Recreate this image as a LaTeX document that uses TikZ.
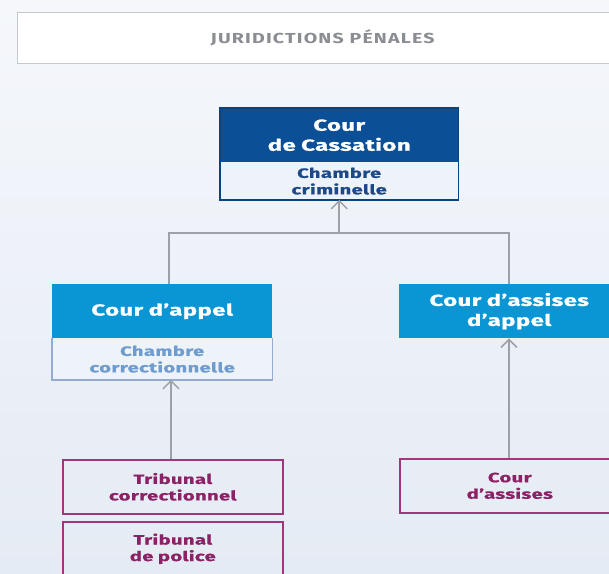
\documentclass[tikz,border=0pt]{standalone}
\usepackage{fontspec}
\setmainfont{Fira Sans}
\newfontfamily\wfont[FakeStretch=1.5, LetterSpace=2.5, FakeBold=0.8]{Fira Sans}
\newfontfamily\tfont[FakeStretch=1.35, LetterSpace=8]{Fira Sans}
\usetikzlibrary{arrows.meta}
\definecolor{bgtop}{HTML}{F5F7FB}
\definecolor{bgbot}{HTML}{E5EBF4}
\definecolor{darkblue}{HTML}{0B4F97}
\definecolor{midblue}{HTML}{0A95D4}
\definecolor{subfill}{HTML}{EEF2F9}
\definecolor{darktext}{HTML}{1D4A86}
\definecolor{lighttext}{HTML}{6E9CCF}
\definecolor{lightborder}{HTML}{95ABD0}
\definecolor{magborder}{HTML}{A0377A}
\definecolor{magtext}{HTML}{8C2266}
\definecolor{linegray}{HTML}{9CA1A9}
\definecolor{titlegray}{HTML}{8A8D92}
\definecolor{titleborder}{HTML}{C4C7CC}
\tikzset{
  boxbase/.style={rectangle, inner sep=0pt, align=center, text width=#1, minimum width=#1},
  header/.style={boxbase=220pt, minimum height=54pt, font=\wfont\bfseries\fontsize{16}{20}\selectfont, text=white},
  subbox/.style={boxbase=220pt, fill=subfill, font=\wfont\bfseries\fontsize{13.5}{16.5}\selectfont},
  lowbox/.style={boxbase=220pt, minimum height=54pt, draw=magborder, line width=1.6pt, text=magtext, font=\wfont\bfseries\fontsize{13.5}{16.5}\selectfont},
  conn/.style={draw=linegray, line width=2pt},
  arr/.style={conn, -{Straight Barb[length=8pt, width=16pt, line width=1.5pt]}},
}
\begin{document}
\begin{tikzpicture}[x=1pt,y=1pt]
\useasboundingbox (0,0) rectangle (609,-573);
\clip (0,0) rectangle (609,-573);
\shade[top color=bgtop, bottom color=bgbot] (0,0) rectangle (609,-573);

% title
\node[rectangle, draw=titleborder, line width=1.2pt, fill=white, minimum width=610pt, minimum height=51pt, anchor=north west, text=titlegray, font=\tfont\bfseries\fontsize{14.5}{17}\selectfont] (title) at (17,-12) {JURIDICTIONS PÉNALES};

% Cour de Cassation
\node[header, boxbase=238pt, fill=darkblue, anchor=north west] (cash) at (220,-108) {Cour\\de Cassation};
\node[subbox, boxbase=238pt, minimum height=37pt, text=darktext, anchor=north] (casb) at (cash.south) {Chambre\\criminelle};
\draw[darkblue!85!black, line width=1.5pt] (cash.north west) rectangle (casb.south east);

% Cour d'appel
\node[header, fill=midblue, anchor=north west] (apph) at (52,-284) {Cour d’appel};
\node[subbox, minimum height=41pt, text=lighttext, anchor=north] (appb) at (apph.south) {Chambre\\correctionnelle};
\draw[lightborder, line width=1.5pt] (apph.south west) |- (appb.south east) -- (apph.south east);

% Cour d'assises d'appel
\node[header, fill=midblue, anchor=north west] (assapp) at (399,-284) {Cour d’assises\\d’appel};

% lower boxes
\node[lowbox, anchor=north west] (tcor) at (62,-459) {Tribunal\\correctionnel};
\node[lowbox, anchor=north west] (tpol) at (62,-521) {Tribunal\\de police};
\node[lowbox, anchor=north west] (cass) at (399,-458) {Cour\\d’assises};

% connectors
\coordinate (jl) at (169,-233);
\coordinate (jr) at (509,-233);
\coordinate (jm) at (cash.south |- jl);
\draw[conn] (apph.north -| jl) -- (jl) -- (jr) -- (assapp.north -| jr);
\draw[arr] (jm) -- (casb.south);
\draw[arr] (tcor.north -| 171,0) -- (appb.south -| 171,0);
\draw[arr] (cass.north -| jr) -- (assapp.south -| jr);
\end{tikzpicture}
\end{document}
